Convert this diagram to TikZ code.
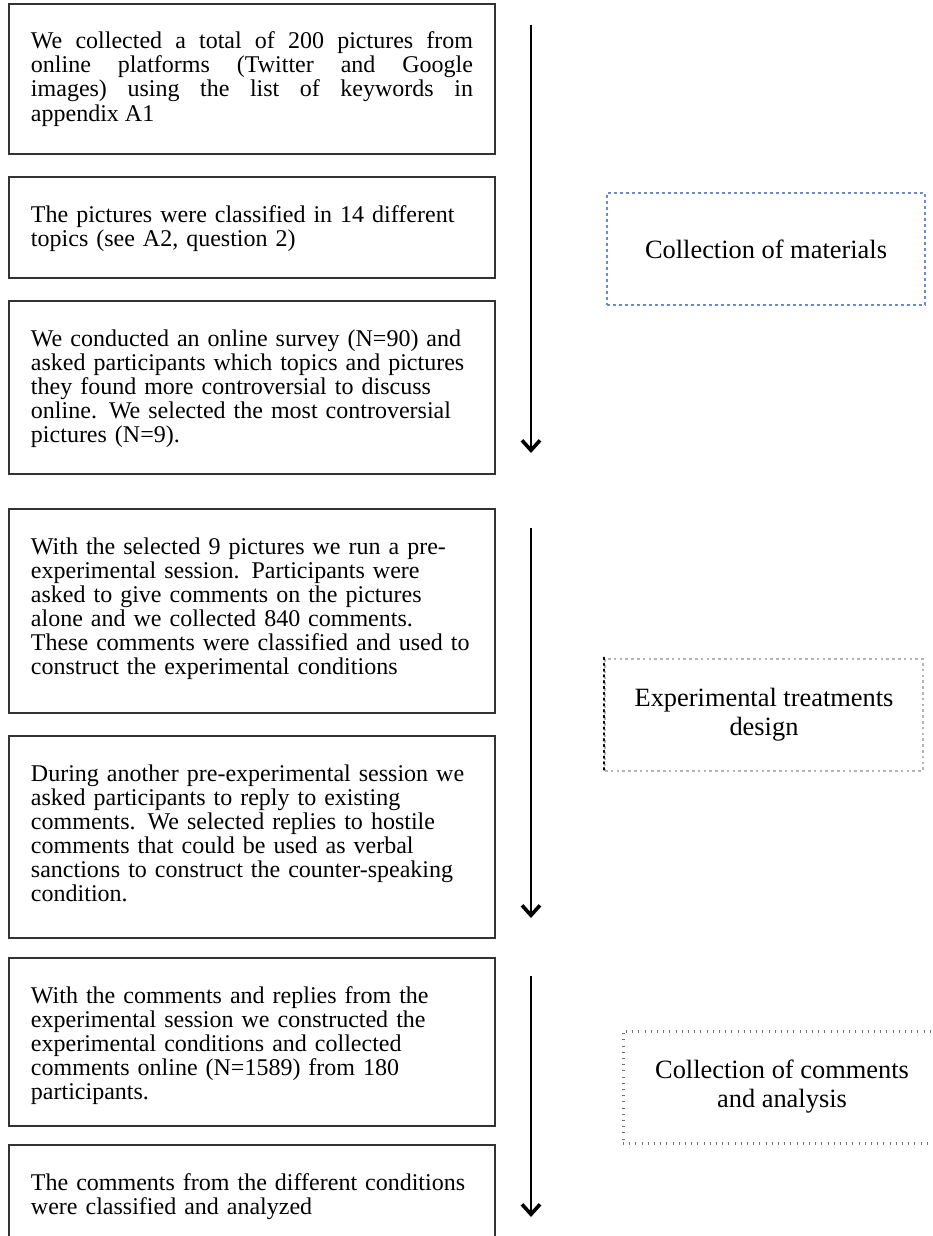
\documentclass[tikz,border=0pt]{standalone}
\usepackage{fontspec}
\setmainfont{Liberation Serif}
\usetikzlibrary{arrows.meta}
\definecolor{StageBlue}{HTML}{6A8BD0}
\definecolor{StageGrey}{HTML}{B4B4B4}
\definecolor{StageDark}{HTML}{707070}

\begin{document}
\begin{tikzpicture}[x=0.5pt,y=-0.5pt,
  stepbox/.style={draw=black!80,line width=1pt,anchor=north west,
    text width=221pt,inner xsep=11pt,inner ysep=0pt,
    text height=22.5pt,text depth=#1,
    font=\fontsize{12}{12}\selectfont,align=left},
  stagebox/.style={minimum width=159pt,minimum height=56pt,align=center,
    font=\fontsize{13.2}{14.5}\selectfont},
  flow/.style={line width=0.9pt,-{Straight Barb[length=5pt,width=9pt,line width=1.8pt]}}]
  \useasboundingbox (0,0) rectangle (932,1236);

  % left column: the steps
  \node[stepbox=52.5pt,align=justify] (collect) at (8,3)
    {We collected a total of 200 pictures from\linebreak
     online platforms (Twitter and Google\linebreak
     images) using the list of keywords in\linebreak
     appendix A1};
  \node[stepbox=28pt] (classify) at (8,176)
    {The pictures were classified in 14 different\\
     topics (see A2, question 2)};
  \node[stepbox=64pt] (survey) at (8,300)
    {We conducted an online survey (N=90) and\\
     asked participants which topics and pictures\\
     they found more controversial to discuss\\
     online. We selected the most controversial\\
     pictures (N=9).};
  \node[stepbox=79.5pt] (pretest) at (8,508)
    {With the selected 9 pictures we run a pre-\\
     experimental session. Participants were\\
     asked to give comments on the pictures\\
     alone and we collected 840 comments.\\
     These comments were classified and used to\\
     construct the experimental conditions};
  \node[stepbox=78.5pt] (replies) at (8,735)
    {During another pre-experimental session we\\
     asked participants to reply to existing\\
     comments. We selected replies to hostile\\
     comments that could be used as verbal\\
     sanctions to construct the counter-speaking\\
     condition.};
  \node[stepbox=61.5pt] (online) at (8,957)
    {With the comments and replies from the\\
     experimental session we constructed the\\
     experimental conditions and collected\\
     comments online (N=1589) from 180\\
     participants.};
  \node[stepbox=32pt] (analyse) at (8,1144)
    {The comments from the different conditions\\
     were classified and analyzed};

  % arrows
  \coordinate (a1s) at (531,25);   \coordinate (a1e) at (531,453);
  \coordinate (a2s) at (531,528);  \coordinate (a2e) at (531,918);
  \coordinate (a3s) at (531,976);  \coordinate (a3e) at (531,1217);
  \draw[flow] (a1s) -- (a1e);
  \draw[flow] (a2s) -- (a2e);
  \draw[flow] (a3s) -- (a3e);

  % right column: the stages
  \node[stagebox,draw=StageBlue,line width=0.8pt,
    dash pattern=on 1.6pt off 1.4pt] (materials) at (766,249)
    {Collection of materials};
  \node[stagebox,draw=StageGrey,line width=1.3pt,
    dash pattern=on 1.3pt off 1.6pt] (design) at (764,715)
    {Experimental treatments\\design};
  \draw[line width=1pt,dash pattern=on 0.8pt off 2.1pt,line cap=round]
    (design.north west) -- (design.south west);
  \node[stagebox,draw=StageDark,line width=1.5pt,
    dash pattern=on 0.5pt off 2.6pt] (comments) at (782,1087)
    {Collection of comments\\and analysis};
\end{tikzpicture}
\end{document}
